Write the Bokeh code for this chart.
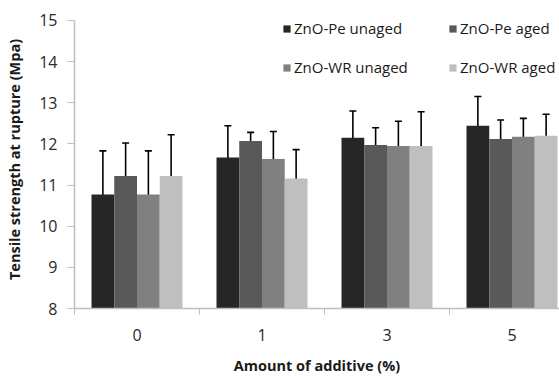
from bokeh.plotting import figure
from bokeh.models import (ColumnDataSource, FixedTicker, Legend, LegendItem,
                          Whisker, TeeHead, Range1d)
from bokeh.transform import dodge
from bokeh.embed import file_html
from bokeh.resources import INLINE

categories = ["0", "1", "3", "5"]
series = ["ZnO-Pe unaged", "ZnO-Pe aged", "ZnO-WR unaged", "ZnO-WR aged"]
colors = ["#262626", "#595959", "#808080", "#bfbfbf"]

pe_unaged = [10.77, 11.67, 12.15, 12.44]
pe_aged = [11.22, 12.07, 11.97, 12.12]
wr_unaged = [10.77, 11.63, 11.95, 12.17]
wr_aged = [11.22, 11.16, 11.95, 12.20]

pe_unaged_err = [1.06, 0.77, 0.65, 0.71]
pe_aged_err = [0.80, 0.21, 0.42, 0.46]
wr_unaged_err = [1.06, 0.67, 0.60, 0.45]
wr_aged_err = [1.00, 0.70, 0.83, 0.52]

y_ticks = [8, 9, 10, 11, 12, 13, 14, 15]

values = [pe_unaged, pe_aged, wr_unaged, wr_aged]
errors = [pe_unaged_err, pe_aged_err, wr_unaged_err, wr_aged_err]

FONT = "Open Sans"
p = figure(width=559, height=377, output_backend="svg", toolbar_location=None,
           x_range=Range1d(-0.5, 3.38), y_range=Range1d(8, 15.24),
           min_border_left=74, min_border_right=0, min_border_top=10,
           min_border_bottom=69)
p.outline_line_color = None
p.grid.grid_line_color = None
p.background_fill_color = "white"
p.border_fill_color = "white"

idx = list(range(len(categories)))
offsets = [-0.273, -0.091, 0.091, 0.273]
bar_w = 0.182
items = []
for name, col, vals, errs, off in zip(series, colors, values, errors, offsets):
    src = ColumnDataSource(dict(
        x=idx, top=vals,
        upper=[v + e for v, e in zip(vals, errs)],
        lower=[v - e for v, e in zip(vals, errs)]))
    r = p.vbar(x=dodge("x", off), top="top", bottom=y_ticks[0], width=bar_w,
               source=src, fill_color=col, line_color=None)
    items.append(LegendItem(label=name, renderers=[r]))
    w = Whisker(base=dodge("x", off), upper="upper", lower="lower", source=src,
                line_color="black", line_width=1.6,
                upper_head=TeeHead(size=7, line_color="black", line_width=1.6),
                lower_head=TeeHead(size=7, line_color="black", line_width=1.6))
    p.add_layout(w)

# x axis
p.xaxis.ticker = FixedTicker(ticks=idx, minor_ticks=[-0.5, 0.5, 1.5, 2.5, 3.5])
p.xaxis.major_label_overrides = {i: c for i, c in zip(idx, categories)}
p.xaxis.major_tick_line_color = None
p.xaxis.major_tick_out = 0
p.xaxis.major_tick_in = 0
p.xaxis.minor_tick_line_color = "#bfbfbf"
p.xaxis.minor_tick_out = 6
p.xaxis.minor_tick_in = 0
p.xaxis.major_label_standoff = 14
p.xaxis.axis_label = "Amount of additive (%)"
p.xaxis.axis_label_standoff = 12

# y axis
p.yaxis.ticker = FixedTicker(ticks=y_ticks)
p.yaxis.bounds = (y_ticks[0], y_ticks[-1])
p.yaxis.minor_tick_line_color = None
p.yaxis.major_tick_out = 7
p.yaxis.major_tick_in = 0
p.yaxis.major_tick_line_color = "#bfbfbf"
p.yaxis.major_label_standoff = 10
p.yaxis.axis_label = "Tensile strength at rupture (Mpa)"
p.yaxis.axis_label_standoff = 12

for ax in (p.xaxis, p.yaxis):
    ax.axis_line_color = "#bfbfbf"
    ax.axis_line_width = 1.5
    ax.major_label_text_font = FONT
    ax.major_label_text_font_size = "16px"
    ax.major_label_text_color = "#2a2a2a"
    ax.axis_label_text_font = FONT
    ax.axis_label_text_font_size = "14.5px"
    ax.axis_label_text_font_style = "bold"
    ax.axis_label_text_color = "#1a1a1a"

# Bokeh fills legend columns first: order items so rows read Pe / WR
legend_items = [items[0], items[2], items[1], items[3]]
legend = Legend(items=legend_items, ncols=2, location=(208, 231),
                padding=0, margin=0, spacing=19,
                glyph_width=9, glyph_height=9, label_standoff=3,
                label_height=20, label_width=135,
                label_text_font=FONT, label_text_font_size="15px",
                label_text_color="#1a1a1a",
                border_line_color=None, background_fill_alpha=0)
p.add_layout(legend, "center")

open("out.html", "w").write(file_html(p, INLINE))
